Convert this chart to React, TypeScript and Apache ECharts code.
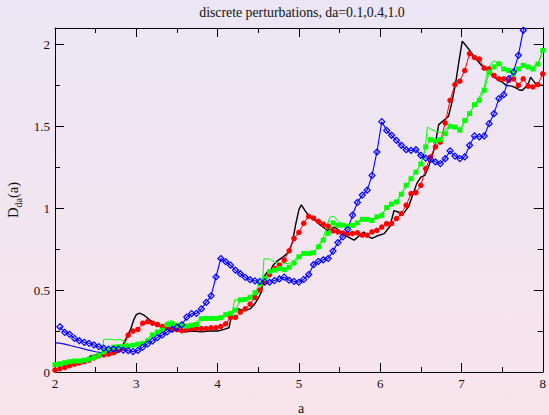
import React, { useEffect, useRef } from "react";
import * as echarts from "echarts";

// x sampling of marker series
const aGrid = [
  2.0, 2.06, 2.12, 2.18, 2.24, 2.3, 2.36, 2.42, 2.48, 2.54,
  2.6, 2.66, 2.72, 2.78, 2.84, 2.9, 2.96, 3.02, 3.08, 3.14,
  3.2, 3.26, 3.32, 3.38, 3.44, 3.5, 3.56, 3.62, 3.68, 3.74,
  3.8, 3.86, 3.92, 3.98, 4.04, 4.1, 4.16, 4.22, 4.28, 4.34,
  4.4, 4.46, 4.52, 4.58, 4.64, 4.7, 4.76, 4.82, 4.88, 4.94,
  5.0, 5.06, 5.12, 5.18, 5.24, 5.3, 5.36, 5.42, 5.48, 5.54,
  5.6, 5.66, 5.72, 5.78, 5.84, 5.9, 5.96, 6.02, 6.08, 6.14,
  6.2, 6.26, 6.32, 6.38, 6.44, 6.5, 6.56, 6.62, 6.68, 6.74,
  6.8, 6.86, 6.92, 6.98, 7.04, 7.1, 7.16, 7.22, 7.28, 7.34,
  7.4, 7.46, 7.52, 7.58, 7.64, 7.7, 7.76, 7.82, 7.88, 7.94,
  8.0,
];

const redD = [
  0.012, 0.02, 0.028, 0.039, 0.048, 0.055, 0.063, 0.072, 0.086, 0.098,
  0.104, 0.109, 0.118, 0.132, 0.152, 0.225, 0.25, 0.26, 0.298, 0.307,
  0.298, 0.29, 0.278, 0.27, 0.262, 0.258, 0.252, 0.258, 0.263, 0.265,
  0.265, 0.265, 0.27, 0.27, 0.278, 0.294, 0.332, 0.334, 0.366, 0.386,
  0.415, 0.455, 0.5, 0.545, 0.595, 0.632, 0.652, 0.683, 0.74, 0.815,
  0.852, 0.908, 0.95, 0.94, 0.92, 0.902, 0.89, 0.862, 0.855, 0.848,
  0.842, 0.846, 0.85, 0.836, 0.835, 0.855, 0.865, 0.885, 0.905, 0.906,
  0.937, 0.967, 1.018, 1.089, 1.095, 1.14, 1.242, 1.313, 1.374, 1.404,
  1.52, 1.658, 1.755, 1.775, 1.84, 1.943, 1.92, 1.91, 1.855, 1.85,
  1.81, 1.79, 1.79, 1.78, 1.79, 1.75, 1.79, 1.745, 1.74, 1.755,
  1.82,
];

const greenD = [
  0.045, 0.05, 0.057, 0.063, 0.067, 0.067, 0.072, 0.078, 0.088, 0.102,
  0.122, 0.138, 0.152, 0.154, 0.157, 0.158, 0.163, 0.17, 0.175, 0.19,
  0.226, 0.244, 0.256, 0.29, 0.293, 0.285, 0.287, 0.28, 0.285, 0.29,
  0.325, 0.327, 0.327, 0.327, 0.332, 0.35, 0.358, 0.378, 0.44, 0.443,
  0.456, 0.484, 0.54, 0.571, 0.612, 0.622, 0.632, 0.625, 0.64, 0.665,
  0.703, 0.724, 0.724, 0.728, 0.764, 0.805, 0.846, 0.91, 0.896, 0.896,
  0.89, 0.895, 0.91, 0.932, 0.932, 0.925, 0.947, 0.957, 1.004, 1.025,
  1.038, 1.085, 1.14, 1.18, 1.22, 1.27, 1.374, 1.418, 1.41, 1.418,
  1.455, 1.5, 1.495, 1.476, 1.535, 1.577, 1.632, 1.659, 1.72, 1.83,
  1.862, 1.882, 1.85, 1.84, 1.82, 1.85, 1.872, 1.862, 1.85, 1.88,
  1.963,
];

// blue diamonds start at the second grid point (2.06) and leave the frame near 7.8
const blueD = [
  0.276, 0.242, 0.23, 0.205, 0.191, 0.181, 0.175, 0.165, 0.155, 0.146,
  0.14, 0.14, 0.14, 0.134, 0.13, 0.124, 0.132, 0.152, 0.172, 0.19,
  0.21, 0.226, 0.245, 0.26, 0.273, 0.288, 0.335, 0.356, 0.358, 0.385,
  0.425, 0.465, 0.58, 0.693, 0.673, 0.652, 0.622, 0.6, 0.578, 0.563,
  0.556, 0.553, 0.55, 0.548, 0.558, 0.568, 0.579, 0.56, 0.553, 0.548,
  0.565, 0.595, 0.655, 0.675, 0.685, 0.693, 0.738, 0.79, 0.825, 0.87,
  0.958, 1.035, 1.08, 1.11, 1.2, 1.343, 1.528, 1.475, 1.445, 1.414,
  1.384, 1.357, 1.353, 1.357, 1.323, 1.306, 1.298, 1.282, 1.272, 1.302,
  1.35, 1.318, 1.303, 1.313, 1.384, 1.441, 1.435, 1.441, 1.516, 1.577,
  1.669, 1.693, 1.79, 1.832, 1.933, 2.086, 2.2,
];

const blackA = [
  2.0, 2.1, 2.2, 2.3, 2.4, 2.44, 2.55, 2.65, 2.75, 2.8,
  2.87, 2.93, 2.97, 3.0, 3.04, 3.1, 3.16, 3.22, 3.3, 3.4,
  3.5, 3.6, 3.7, 3.8, 3.9, 4.0, 4.08, 4.14, 4.17, 4.2,
  4.26, 4.32, 4.4, 4.45, 4.5, 4.54, 4.57, 4.61, 4.65, 4.68,
  4.74, 4.8, 4.87, 4.92, 4.96, 5.0, 5.03, 5.07, 5.12, 5.2,
  5.27, 5.35, 5.4, 5.44, 5.5, 5.56, 5.62, 5.68, 5.74, 5.8,
  5.84, 5.9, 5.96, 6.05, 6.12, 6.17, 6.23, 6.29, 6.35, 6.4,
  6.45, 6.5, 6.55, 6.6, 6.67, 6.72, 6.78, 6.84, 6.88, 6.93,
  6.97, 7.01, 7.06, 7.12, 7.18, 7.24, 7.3, 7.36, 7.43, 7.5,
  7.55, 7.62, 7.67, 7.72, 7.75, 7.79, 7.83, 7.85, 7.88, 7.92,
  8.0,
];
const blackD = [
  0.01, 0.025, 0.04, 0.06, 0.08, 0.1, 0.105, 0.11, 0.115, 0.13,
  0.2, 0.26, 0.32, 0.35, 0.36, 0.345, 0.32, 0.297, 0.28, 0.265,
  0.25, 0.245, 0.25, 0.245, 0.25, 0.25, 0.26, 0.27, 0.34, 0.38,
  0.385, 0.375, 0.385, 0.41, 0.45, 0.49, 0.58, 0.61, 0.615, 0.65,
  0.68, 0.7, 0.73, 0.79, 0.9, 0.99, 1.02, 0.99, 0.955, 0.925,
  0.895, 0.865, 0.875, 0.885, 0.86, 0.835, 0.82, 0.805, 0.83, 0.855,
  0.83, 0.815, 0.83, 0.845, 0.89, 0.985, 0.975, 0.97, 1.01, 1.08,
  1.15, 1.19, 1.2, 1.26, 1.37, 1.51, 1.535, 1.56, 1.64, 1.77,
  1.9, 2.02, 1.99, 1.95, 1.91, 1.875, 1.85, 1.82, 1.79, 1.77,
  1.75, 1.745, 1.735, 1.72, 1.72, 1.74, 1.77, 1.8, 1.78, 1.755,
  1.75,
];

const greenLineA = [
  2.0, 2.25, 2.5, 2.55, 2.58, 2.6, 2.68, 2.75, 2.8, 2.85,
  2.92, 3.0, 3.1, 3.17, 3.25, 3.33, 3.38, 3.43, 3.5, 3.6,
  3.7, 3.77, 3.85, 4.0, 4.1, 4.18, 4.21, 4.3, 4.4, 4.5,
  4.55, 4.57, 4.64, 4.7, 4.8, 4.9, 5.0, 5.1, 5.2, 5.3,
  5.38, 5.43, 5.5, 5.6, 5.7, 5.8, 5.9, 6.0, 6.1, 6.2,
  6.3, 6.4, 6.5, 6.55, 6.58, 6.65, 6.75, 6.85, 6.95, 7.0,
  7.1, 7.2, 7.28, 7.33, 7.4, 7.45, 7.55, 7.65, 7.75, 7.85,
  7.95, 8.0,
];
const greenLineD = [
  0.045, 0.066, 0.09, 0.11, 0.13, 0.2, 0.2, 0.195, 0.2, 0.185,
  0.165, 0.167, 0.178, 0.22, 0.245, 0.27, 0.305, 0.315, 0.295, 0.285,
  0.29, 0.32, 0.33, 0.33, 0.345, 0.365, 0.44, 0.445, 0.455, 0.5,
  0.53, 0.69, 0.69, 0.67, 0.66, 0.665, 0.71, 0.725, 0.74, 0.82,
  0.945, 0.95, 0.915, 0.895, 0.91, 0.935, 0.935, 0.955, 1.01, 1.04,
  1.12, 1.19, 1.27, 1.35, 1.495, 1.475, 1.46, 1.5, 1.49, 1.49,
  1.58, 1.66, 1.74, 1.86, 1.9, 1.885, 1.84, 1.83, 1.87, 1.855,
  1.89, 1.96,
];

const blueLineA = [2.0, 2.06, 2.12, 2.2, 2.3, 2.4, 2.5, 2.58, 2.66, 2.72, 2.78, 2.84, 2.9];
const blueLineD = [0.178, 0.176, 0.17, 0.16, 0.148, 0.135, 0.124, 0.118, 0.125, 0.133, 0.138, 0.134, 0.13];

const TITLE = "discrete perturbations, da=0.1,0.4,1.0";
const X_NAME = "a";

const FONT = "Liberation Serif";
const TEXT_COLOR = "#111";

function pairs(xs: number[], ys: number[]) {
  return ys.map((y, i) => [xs[i], y]);
}

export default function App() {
  const ref = useRef<HTMLDivElement>(null);
  useEffect(() => {
    if (!ref.current) return;
    const chart = echarts.init(ref.current, null, { renderer: "svg" });

    const line = { show: true, onZero: false, lineStyle: { color: "#000", width: 1 } };
    const xCommon = (pos: "bottom" | "top", labels: boolean) => ({
      type: "value",
      min: 2,
      max: 8,
      interval: 1,
      position: pos,
      axisLine: line,
      axisTick: { show: true, inside: true, length: 9, lineStyle: { color: "#000", width: 1 } },
      minorTick: { show: true, splitNumber: 2, length: 5, lineStyle: { color: "#000", width: 1 } },
      splitLine: { show: false },
      minorSplitLine: { show: false },
      axisLabel: labels
        ? { show: true, margin: 5, fontFamily: FONT, fontSize: 13, color: TEXT_COLOR }
        : { show: false },
    });
    const yCommon = (pos: "left" | "right", major: boolean, labels: boolean) => ({
      type: "value",
      min: 0,
      max: 2.1,
      interval: major ? 0.5 : 0.25,
      position: pos,
      axisLine: major ? line : { show: false },
      axisTick: {
        show: true,
        inside: true,
        length: major ? 9 : 5,
        lineStyle: { color: "#000", width: 1 },
      },
      splitLine: { show: false },
      axisLabel: labels
        ? { show: true, margin: 5, showMaxLabel: false, fontFamily: FONT, fontSize: 13, color: TEXT_COLOR }
        : { show: false },
    });

    chart.setOption({
      animation: false,
      backgroundColor: "transparent",
      grid: { left: 55, right: 2, top: 28, bottom: 43, containLabel: false },
      xAxis: [xCommon("bottom", true), xCommon("top", false)],
      yAxis: [
        yCommon("left", true, true),
        yCommon("left", false, false),
        yCommon("right", true, false),
        yCommon("right", false, false),
      ],
      graphic: [
        {
          type: "text",
          x: 302,
          y: 12,
          style: {
            text: TITLE,
            textAlign: "center",
            textVerticalAlign: "middle",
            fontFamily: FONT,
            fontSize: 13.8,
            fill: TEXT_COLOR,
          },
        },
        {
          type: "text",
          x: 301,
          y: 408,
          style: {
            text: X_NAME,
            textAlign: "center",
            textVerticalAlign: "middle",
            fontFamily: FONT,
            fontSize: 14,
            fill: TEXT_COLOR,
          },
        },
        {
          type: "group",
          x: 13,
          y: 218,
          rotation: Math.PI / 2,
          children: [
            {
              type: "text",
              x: 0,
              y: 0,
              style: { text: "D", textAlign: "left", textVerticalAlign: "middle", fontFamily: FONT, fontSize: 14.5, fill: TEXT_COLOR },
            },
            {
              type: "text",
              x: 10.5,
              y: 5,
              style: { text: "da", textAlign: "left", textVerticalAlign: "middle", fontFamily: FONT, fontSize: 10, fill: TEXT_COLOR },
            },
            {
              type: "text",
              x: 20,
              y: 0,
              style: { text: "(a)", textAlign: "left", textVerticalAlign: "middle", fontFamily: FONT, fontSize: 14.5, fill: TEXT_COLOR },
            },
          ],
        },
      ],
      series: [
        {
          type: "line",
          data: pairs(blackA, blackD),
          showSymbol: false,
          lineStyle: { color: "#000", width: 1.4 },
          emphasis: { disabled: true },
          silent: true,
        },
        {
          type: "line",
          data: pairs(aGrid, redD),
          symbol: "circle",
          symbolSize: 5.5,
          itemStyle: { color: "#ff0000" },
          lineStyle: { color: "#ff0000", width: 1 },
          emphasis: { disabled: true },
          silent: true,
        },
        {
          type: "line",
          data: pairs(greenLineA, greenLineD),
          showSymbol: false,
          lineStyle: { color: "#00ff00", width: 1 },
          emphasis: { disabled: true },
          silent: true,
        },
        {
          type: "line",
          data: pairs(aGrid, greenD),
          symbol: "rect",
          symbolSize: 5,
          itemStyle: { color: "#00ff00" },
          lineStyle: { color: "#00ff00", width: 1 },
          emphasis: { disabled: true },
          silent: true,
        },
        {
          type: "line",
          data: pairs(blueLineA, blueLineD),
          showSymbol: false,
          lineStyle: { color: "#0000ff", width: 1.1 },
          emphasis: { disabled: true },
          silent: true,
        },
        {
          type: "line",
          data: blueD.map((y, i) => [aGrid[i + 1], y]),
          symbol: "diamond",
          symbolSize: 6,
          itemStyle: { color: "transparent", borderColor: "#0000ff", borderWidth: 1.2 },
          lineStyle: { color: "#0000ff", width: 1.1 },
          emphasis: { disabled: true },
          silent: true,
        },
      ],
    });
    return () => chart.dispose();
  }, []);

  return (
    <div
      ref={ref}
      style={{
        position: "fixed",
        left: 0,
        top: 0,
        width: 549,
        height: 415,
        background: "linear-gradient(to bottom, #ebe6f5 0%, #f8e4eb 100%)",
      }}
    />
  );
}
